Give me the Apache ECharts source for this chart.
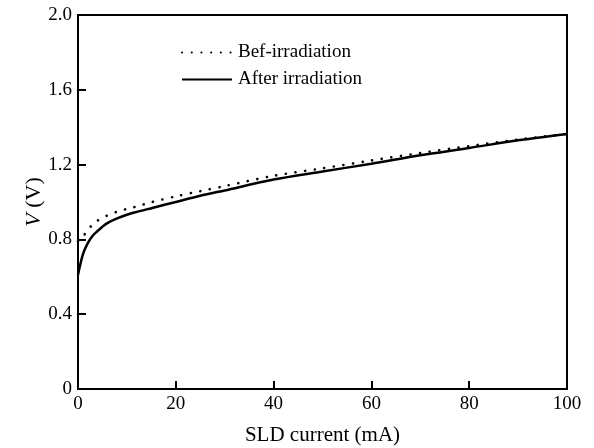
<!DOCTYPE html>
<html><head><meta charset="utf-8">
<script src="https://cdn.jsdelivr.net/npm/echarts@6/dist/echarts.min.js"></script>
<style>html,body{margin:0;padding:0;background:#fff}#c{width:594px;height:448px}</style>
</head><body><div id="c"></div>
<script>
var current = [0, 1, 2, 3, 4, 5, 6, 8, 10, 12, 15, 20, 25, 30, 40, 50, 60, 70, 80, 90, 100];
var befIrradiation = [0.79, 0.815, 0.85, 0.88, 0.90, 0.915, 0.928, 0.948, 0.963, 0.976, 0.999, 1.030, 1.058, 1.085, 1.140, 1.180, 1.222, 1.262, 1.299, 1.334, 1.364];
var afterIrradiation = [0.61, 0.72, 0.78, 0.82, 0.845, 0.868, 0.887, 0.912, 0.932, 0.947, 0.967, 1.000, 1.033, 1.062, 1.120, 1.163, 1.205, 1.250, 1.289, 1.330, 1.364];
var xTicks = [0, 20, 40, 60, 80, 100];
var yTicks = [0, 0.4, 0.8, 1.2, 1.6, 2.0];

function pairs(xs, ys){ return xs.map(function(x,i){ return [x, ys[i]]; }); }
var font = 'Liberation Serif';
var chart = echarts.init(document.getElementById('c'), null, {renderer:'canvas'});
chart.setOption({
  animation: false,
  backgroundColor: '#fff',
  grid: {left: 78, right: 27, top: 15, bottom: 59, containLabel: false, outerBoundsMode: 'none',
         show: true, borderColor: '#000', borderWidth: 2, backgroundColor: 'transparent'},
  legend: {
    orient: 'vertical', left: 176, top: 38, itemWidth: 50, itemHeight: 16, itemGap: 8,
    textStyle: {fontFamily: font, fontSize: 19, color: '#000', padding: [0,0,0,1]},
    itemStyle: {opacity: 0},
    data: ['Bef-irradiation', 'After irradiation']
  },
  xAxis: {
    type: 'value', min: 0, max: 100, interval: 20,
    name: 'SLD current (mA)', nameLocation: 'middle', nameGap: 36,
    nameTextStyle: {fontFamily: font, fontSize: 21, color: '#000'},
    axisLine: {lineStyle: {color: '#000', width: 2}},
    axisTick: {inside: true, length: 8, lineStyle: {color: '#000', width: 2}},
    axisLabel: {fontFamily: font, fontSize: 19, color: '#000', margin: 6,
      formatter: function(v){ return xTicks.indexOf(v) >= 0 ? String(v) : ''; }},
    splitLine: {show: false}
  },
  yAxis: {
    type: 'value', min: 0, max: 2, interval: 0.4,
    name: '{i|V} {n|(V)}', nameLocation: 'middle', nameGap: 33, nameRotate: 90, nameMoveOverlap: false,
    nameTextStyle: {fontFamily: font, fontSize: 22, color: '#000',
      rich: {i: {fontFamily: font, fontSize: 22, fontStyle: 'italic', color: '#000'},
             n: {fontFamily: font, fontSize: 22, fontStyle: 'normal', color: '#000'}}},
    axisLine: {lineStyle: {color: '#000', width: 2}},
    axisTick: {inside: true, length: 8, lineStyle: {color: '#000', width: 2}},
    axisLabel: {fontFamily: font, fontSize: 19, color: '#000', margin: 6,
      formatter: function(v){
        for (var i = 0; i < yTicks.length; i++) {
          if (Math.abs(yTicks[i] - v) < 1e-6) return v === 0 ? '0' : yTicks[i].toFixed(1);
        }
        return '';
      }},
    splitLine: {show: false}
  },
  series: [
    {name: 'Bef-irradiation', type: 'line', smooth: 0.3, symbol: 'none',
     data: pairs(current, befIrradiation),
     lineStyle: {color: '#000', width: 2.6, type: [0.1, 9.6], cap: 'round'},
     itemStyle: {color: '#000'}},
    {name: 'After irradiation', type: 'line', smooth: 0.3, symbol: 'none',
     data: pairs(current, afterIrradiation),
     lineStyle: {color: '#000', width: 2.5, type: 'solid'},
     itemStyle: {color: '#000'}}
  ]
});
</script></body></html>
